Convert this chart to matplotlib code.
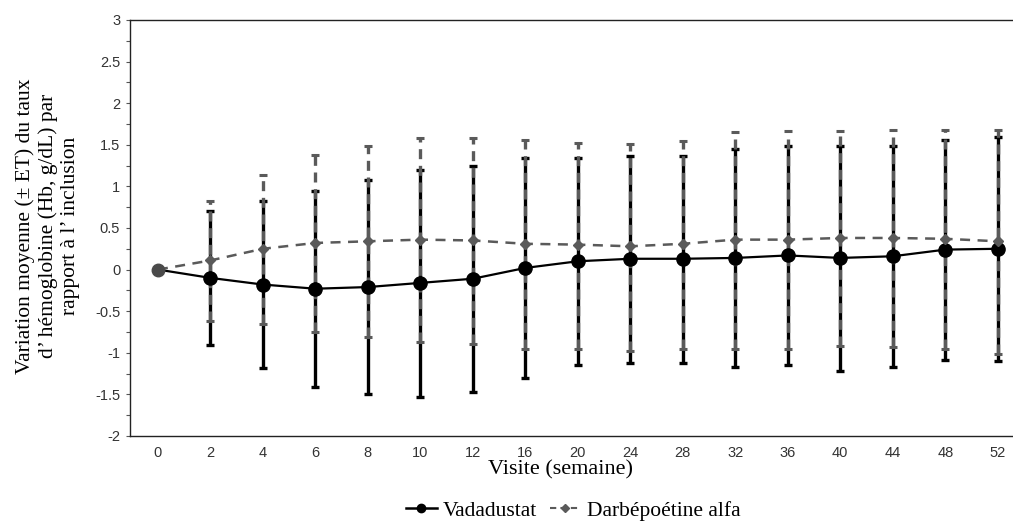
import numpy as np
import matplotlib
matplotlib.use("Agg")
import matplotlib.pyplot as plt
from matplotlib.ticker import MultipleLocator

# Visit weeks (categorical axis)
weeks = ["0", "2", "4", "6", "8", "10", "12", "16", "20", "24", "28", "32", "36", "40", "44", "48", "52"]

# Vadadustat: mean change and error bar ends
vada_mean = [0.0, -0.10, -0.18, -0.23, -0.21, -0.16, -0.11, 0.02, 0.10, 0.13, 0.13, 0.14, 0.17, 0.14, 0.16, 0.24, 0.25]
vada_upper = [0.0, 0.70, 0.82, 0.94, 1.08, 1.20, 1.25, 1.34, 1.34, 1.36, 1.36, 1.45, 1.48, 1.49, 1.49, 1.56, 1.59]
vada_lower = [0.0, -0.91, -1.18, -1.41, -1.50, -1.53, -1.47, -1.30, -1.15, -1.12, -1.12, -1.17, -1.15, -1.22, -1.17, -1.09, -1.10]

# Darbepoetin alfa: mean change and error bar ends
darb_mean = [0.0, 0.11, 0.25, 0.32, 0.34, 0.36, 0.35, 0.31, 0.30, 0.28, 0.31, 0.36, 0.36, 0.38, 0.38, 0.37, 0.34]
darb_upper = [0.0, 0.83, 1.14, 1.38, 1.49, 1.58, 1.58, 1.56, 1.52, 1.51, 1.55, 1.65, 1.67, 1.67, 1.68, 1.68, 1.68]
darb_lower = [0.0, -0.62, -0.65, -0.75, -0.81, -0.87, -0.90, -0.96, -0.95, -0.98, -0.96, -0.95, -0.96, -0.92, -0.93, -0.96, -1.02]

GREY = "#5a5a5a"
serif = ["Liberation Serif", "DejaVu Serif"]
sans = ["Liberation Sans", "DejaVu Sans"]


def main():
    x = np.arange(len(weeks))
    vm, dm = np.array(vada_mean), np.array(darb_mean)
    v_err = [vm - np.array(vada_lower), np.array(vada_upper) - vm]
    d_err = [dm - np.array(darb_lower), np.array(darb_upper) - dm]

    fig = plt.figure(figsize=(10.13, 5.22), dpi=100)
    ax = fig.add_axes([0.1283, 0.1648, 0.8717, 0.7969])

    # error bars first: black solid, then grey dashed over it
    ax.errorbar(x[1:], vm[1:], yerr=[e[1:] for e in v_err], fmt="none",
                ecolor="black", elinewidth=2.4, capsize=3, capthick=2.4, zorder=2)
    d_bars = ax.errorbar(x[1:], dm[1:], yerr=[e[1:] for e in d_err], fmt="none",
                         ecolor=GREY, elinewidth=2.4, capsize=3, capthick=2.2, zorder=3)
    for lc in d_bars[2]:
        lc.set_linestyle((0, (3, 2)))

    # mean lines
    ax.plot(x, vm, "-", color="black", lw=1.6, marker="o", ms=9.5,
            markevery=list(range(1, len(x))), zorder=4)
    ax.plot(x, dm, "--", color=GREY, lw=1.8, dashes=(4, 3), marker="D", ms=5.5,
            markevery=list(range(1, len(x))), zorder=5)
    ax.plot(x[:1], vm[:1], "o", color="#4a4a4a", ms=9, zorder=6)

    ax.set_xlim(-0.533, 16.29)
    ax.set_ylim(-2, 3)
    ax.set_xticks(x)
    ax.set_xticklabels(weeks)
    ax.yaxis.set_minor_locator(MultipleLocator(0.25))
    ax.set_yticks(np.arange(-2, 3.01, 0.5))
    ax.set_yticklabels([f"{v:g}" for v in np.arange(-2, 3.01, 0.5)])
    ax.tick_params(axis="x", length=0, pad=7)
    ax.tick_params(axis="y", which="both", length=3, width=0.8, color="#555555", pad=4)
    for lab in ax.get_xticklabels() + ax.get_yticklabels():
        lab.set_family(sans)
        lab.set_fontsize(10.5)
        lab.set_color("#333333")

    ax.spines["right"].set_visible(False)
    for s in ("left", "bottom", "top"):
        ax.spines[s].set_linewidth(1.0)
        ax.spines[s].set_color("#222222")

    ax.set_xlabel("Visite (semaine)", family=serif, fontsize=16)
    ax.xaxis.set_label_coords(0.487, -0.058)
    ax.set_ylabel("Variation moyenne (\u00b1 ET) du taux\nd\u2019 h\u00e9moglobine (Hb, g/dL) par\nrapport \u00e0 l\u2019 inclusion",
                  family=serif, fontsize=15.5, linespacing=1.2)
    ax.yaxis.set_label_coords(-0.057, 0.505)

    handles = [
        plt.Line2D([], [], color="black", lw=1.8, marker="o", ms=6),
        plt.Line2D([], [], color=GREY, lw=1.5, ls="--", dashes=(3, 2), marker="D", ms=4),
    ]
    fig.legend(handles, ["Vadadustat", "Darb\u00e9po\u00e9tine alfa"], loc="lower center",
               bbox_to_anchor=(0.566, -0.035), ncol=2, frameon=False,
               prop={"family": serif, "size": 15.5}, handlelength=1.4,
               handletextpad=0.3, columnspacing=0.6)

    fig.savefig("out.png", dpi=100)


if __name__ == "__main__":
    main()
